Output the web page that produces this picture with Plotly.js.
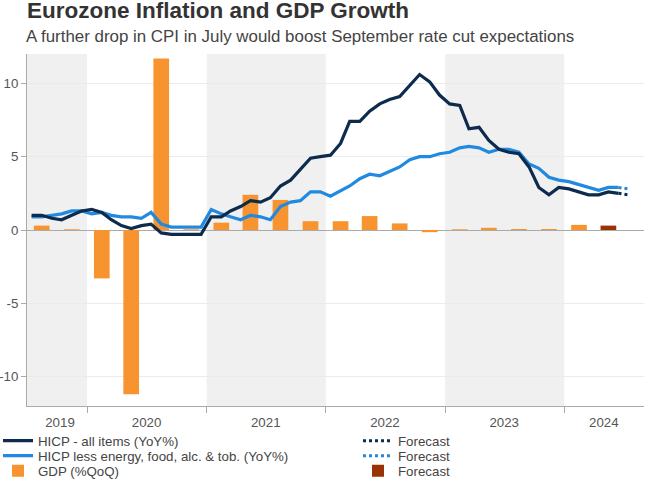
<!DOCTYPE html>
<html>
<head>
<meta charset="utf-8">
<script src="https://cdn.plot.ly/plotly-3.0.1.min.js"></script>
<style>html,body{margin:0;padding:0;background:#fff;}#chart{width:645px;height:484px;}</style>
</head>
<body>
<div id="chart"></div>
<script>
// ---- Data (monthly, Jul 2019 - Jun 2024) ----
const monthStart = [2019, 7];
const hicpAll = [
  1.0, 1.0, 0.8, 0.7, 1.0, 1.3,
  1.4, 1.2, 0.7, 0.3, 0.1, 0.3, 0.4, -0.2, -0.3, -0.3, -0.3, -0.3,
  0.9, 0.9, 1.3, 1.6, 2.0, 1.9, 2.2, 3.0, 3.4, 4.1, 4.9, 5.0,
  5.1, 5.9, 7.4, 7.4, 8.1, 8.6, 8.9, 9.1, 9.9, 10.6, 10.1, 9.2,
  8.6, 8.5, 6.9, 7.0, 6.1, 5.5, 5.3, 5.2, 4.3, 2.9, 2.4, 2.9,
  2.8, 2.6, 2.4, 2.4, 2.6, 2.5
];
const hicpCore = [
  0.9, 0.9, 1.0, 1.1, 1.3, 1.3,
  1.1, 1.2, 1.0, 0.9, 0.9, 0.8, 1.2, 0.4, 0.2, 0.2, 0.2, 0.2,
  1.4, 1.1, 0.9, 0.7, 1.0, 0.9, 0.7, 1.6, 1.9, 2.0, 2.6, 2.6,
  2.3, 2.7, 3.0, 3.5, 3.8, 3.7, 4.0, 4.3, 4.8, 5.0, 5.0, 5.2,
  5.3, 5.6, 5.7, 5.6, 5.3, 5.5, 5.5, 5.3, 4.5, 4.2, 3.6, 3.4,
  3.3, 3.1, 2.9, 2.7, 2.9, 2.9
];
// Forecast segments (Jun 2024 -> Jul 2024)
const fcDates = ['2024-06-15', '2024-07-15'];
const hicpAllFc = [2.5, 2.4];
const hicpCoreFc = [2.9, 2.8];

// ---- GDP (quarterly, Q3 2019 - Q1 2024) ----
const gdpStart = [2019, 3];
const gdp = [0.3, 0.05, -3.3, -11.2, 11.7, 0.05, 0.5, 2.4, 2.05, 0.6, 0.6, 0.95, 0.45, -0.15, 0.05, 0.15, 0.07, 0.07, 0.35];
const gdpFcDates = ['2024-05-15'];
const gdpFc = [0.3];

// ---- Axis labels ----
const yearLabels = ['2019', '2020', '2021', '2022', '2023', '2024'];
const yearLabelPos = ['2019-10-10', '2020-07-01', '2021-07-01', '2022-07-01', '2023-07-01', '2024-05-01'];
const yearBounds = ['2020-01-01', '2021-01-01', '2022-01-01', '2023-01-01', '2024-01-01'];
const shadedSpans = [['2019-07-01', '2020-01-01'], ['2021-01-01', '2022-01-01'], ['2023-01-01', '2024-01-01']];
const yTicks = [-10, -5, 0, 5, 10];
const yTickText = ['-10', '-5', '0', '5', '10'];

function pad(n) { return (n < 10 ? '0' : '') + n; }
function monthDates(start, n) {
  const out = [];
  for (let i = 0; i < n; i++) {
    const d = new Date(Date.UTC(start[0], start[1] - 1 + i, 15));
    out.push(d.getUTCFullYear() + '-' + pad(d.getUTCMonth() + 1) + '-15');
  }
  return out;
}
function quarterDates(start, n) {
  const out = [];
  for (let i = 0; i < n; i++) {
    const d = new Date(Date.UTC(start[0], (start[1] - 1) * 3 + 1 + i * 3, 15));
    out.push(d.getUTCFullYear() + '-' + pad(d.getUTCMonth() + 1) + '-15');
  }
  return out;
}

const mDates = monthDates(monthStart, hicpAll.length);
const qDates = quarterDates(gdpStart, gdp.length);

const NAVY = '#0c2b4d', BLUE = '#2189e0', ORANGE = '#f7942f', BROWN = '#993305';
const FONT = 'Liberation Sans, Arial, sans-serif';
const barW = 48 * 86400000;

const traces = [
  {type: 'bar', x: qDates, y: gdp, name: 'GDP (%QoQ)', marker: {color: ORANGE, line: {width: 0}}, width: barW, legend: 'legend3'},
  {type: 'bar', x: gdpFcDates, y: gdpFc, name: 'Forecast', marker: {color: BROWN, line: {width: 0}}, width: barW, legend: 'legend6'},
  {type: 'scatter', mode: 'lines', x: mDates, y: hicpCore, name: 'HICP less energy, food, alc. &amp; tob. (YoY%)', line: {color: BLUE, width: 3.2}, legend: 'legend2'},
  {type: 'scatter', mode: 'lines', x: mDates, y: hicpAll, name: 'HICP - all items (YoY%)', line: {color: NAVY, width: 3.2}, legend: 'legend'},
  {type: 'scatter', mode: 'lines', x: fcDates, y: hicpAllFc, name: 'Forecast', line: {color: NAVY, width: 3, dash: 'dot'}, legend: 'legend4'},
  {type: 'scatter', mode: 'lines', x: fcDates, y: hicpCoreFc, name: 'Forecast', line: {color: BLUE, width: 3, dash: 'dot'}, legend: 'legend5'}
];

// plot area in pixels: x 27..644, y 54..406
const PL = 27, PW = 617, PT = 54, PH = 352;
function leg(xpx, ypx) {
  return {
    xref: 'paper', yref: 'paper',
    x: (xpx - PL) / PW, y: (PT + PH - ypx) / PH,
    xanchor: 'left', yanchor: 'middle',
    bgcolor: 'rgba(0,0,0,0)', borderwidth: 0,
    font: {family: FONT, size: 13.3, color: '#444'},
    itemwidth: 30
  };
}

const shapes = shadedSpans.map(s => ({
  type: 'rect', xref: 'x', yref: 'paper', x0: s[0], x1: s[1], y0: 0, y1: 1,
  fillcolor: '#f0f0f0', line: {width: 0}, layer: 'below'
}));

const layout = {
  width: 645, height: 484,
  margin: {l: PL, r: 645 - PL - PW, t: PT, b: 484 - PT - PH, autoexpand: false},
  paper_bgcolor: '#fff', plot_bgcolor: '#fff',
  font: {family: FONT, color: '#444'},
  showlegend: true,
  barmode: 'overlay',
  title: {
    text: '<b>Eurozone Inflation and GDP Growth</b>',
    font: {family: FONT, size: 22.5, color: '#333'},
    xref: 'container', yref: 'container',
    x: 27 / 645, xanchor: 'left',
    y: 1 - 10.5 / 484, yanchor: 'middle'
  },
  annotations: [{
    text: 'A further drop in CPI in July would boost September rate cut expectations',
    xref: 'paper', yref: 'paper', x: -3 / PW, y: 1 + (PT - 37) / PH,
    xanchor: 'left', yanchor: 'middle', showarrow: false,
    font: {family: FONT, size: 16.9, color: '#444'}
  }],
  xaxis: {
    type: 'date', range: ['2019-07-01', '2024-09-01'],
    tickmode: 'array', tickvals: yearLabelPos, ticktext: yearLabels,
    ticks: '', showgrid: false, zeroline: false,
    showline: true, linecolor: '#aaa', linewidth: 1,
    tickfont: {family: FONT, size: 13.3, color: '#555'},
    tickangle: 0, automargin: false, ticklabelstandoff: 4,
    minor: {tickmode: 'array', tickvals: yearBounds, ticks: 'outside', ticklen: 6, tickcolor: '#aaa', tickwidth: 1, showgrid: false},
    fixedrange: true
  },
  yaxis: {
    range: [-12, 12],
    tickmode: 'array', tickvals: yTicks, ticktext: yTickText,
    ticks: 'outside', ticklen: 5, tickcolor: '#aaa',
    showline: true, linecolor: '#aaa', linewidth: 1,
    showgrid: true, gridcolor: '#ebebeb', gridwidth: 1,
    zeroline: true, zerolinecolor: '#aaa', zerolinewidth: 1,
    tickfont: {family: FONT, size: 13.3, color: '#555'},
    automargin: false,
    fixedrange: true
  },
  shapes: shapes,
  legend: leg(-2, 441),
  legend2: leg(-2, 456),
  legend3: leg(-2, 471),
  legend4: leg(358, 441),
  legend5: leg(358, 456),
  legend6: leg(358, 471)
};

Plotly.newPlot('chart', traces, layout, {displayModeBar: false, staticPlot: true});
</script>
</body>
</html>
